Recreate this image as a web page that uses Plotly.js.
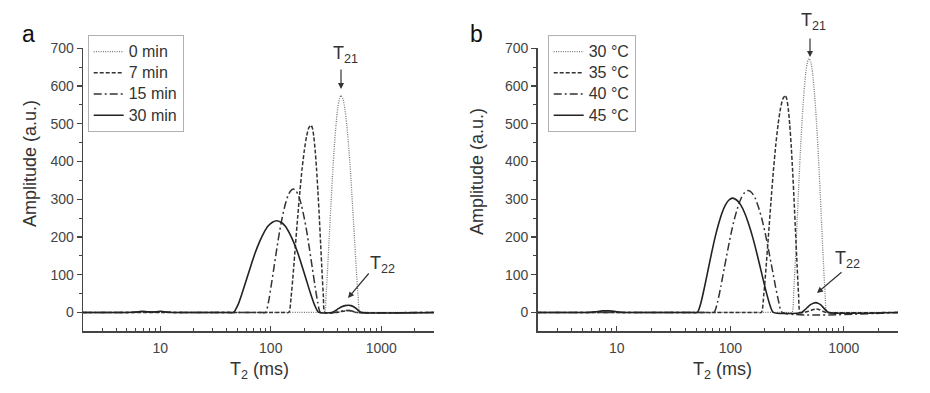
<!DOCTYPE html>
<html><head><meta charset="utf-8">
<script src="https://cdn.plot.ly/plotly-3.0.1.min.js"></script>
<style>html,body{margin:0;padding:0;background:#fff}#chart{width:930px;height:393px}</style>
</head><body><div id="chart"></div>
<script>
// ---------- data ----------
const aNames = ['0 min','7 min','15 min','30 min'];
const bNames = ['30 °C','35 °C','40 °C','45 °C'];

// panel a
const a0x = [2, 280, 306.2, 317.0, 328.1, 339.6, 351.6, 363.9, 376.7, 389.9, 403.6, 417.8, 432.5, 449.8, 467.7, 486.4, 505.8, 526.0, 547.0, 568.9, 591.6, 615.2, 639.7, 680, 3000];
const a0y = [0, 0, 0, 48, 124, 209, 294, 374, 443, 499, 541, 566, 575, 566, 541, 499, 443, 374, 294, 209, 124, 48, 0, 0, 0];
const a7x = [2, 130, 145.9, 152.8, 160.0, 167.5, 175.4, 183.7, 192.3, 201.4, 210.9, 220.8, 231.2, 238.0, 244.9, 252.1, 259.4, 267.0, 274.8, 282.8, 291.1, 299.6, 308.3, 400, 430, 470, 510, 550, 590, 3000];
const a7y = [0, 0, 0, 41, 107, 181, 254, 322, 382, 430, 467, 489, 496, 489, 467, 430, 382, 322, 254, 181, 107, 41, 0, 0, 2, 4, 5, 3, 0, 0];
const a15x = [2, 5.5, 6.5, 7.2, 8, 9, 10, 11, 13, 80, 89.9, 95.3, 100.9, 106.9, 113.2, 119.9, 127.1, 134.6, 142.6, 151.0, 160.0, 169.3, 179.1, 189.5, 200.4, 212.1, 224.4, 237.4, 251.2, 265.8, 281.2, 380, 420, 470, 520, 570, 620, 3000];
const a15y = [0, 0, 1, 2, 1, 1, 2, 1, 0, 0, 0, 27, 71, 119, 167, 213, 252, 284, 308, 322, 327, 322, 308, 284, 252, 213, 167, 119, 71, 27, 0, 0, 2, 5, 5, 2, 0, 0];
const a30x = [2, 5, 6, 6.8, 7.6, 8.5, 9.3, 10.2, 11.3, 13, 40, 46.1, 50.5, 55.2, 60.4, 66.1, 72.3, 79.1, 86.5, 94.6, 103.5, 113.2, 123.6, 134.9, 147.2, 160.7, 175.4, 191.4, 208.9, 228.0, 248.9, 271.6, 356.5, 381.9, 409.3, 438.5, 469.9, 503.5, 532.1, 562.3, 594.3, 628.1, 663.7, 3000];
const a30y = [0, 0, 1, 3, 2, 1, 2, 3, 1, 0, 0, 0, 20, 52, 88, 124, 158, 187, 211, 229, 239, 243, 239, 229, 211, 187, 158, 124, 88, 52, 20, 0, 0, 4, 10, 15, 18, 19, 18, 15, 10, 4, 0, 0];

// panel b
const b30x = [2, 320, 349.9, 362.2, 375.0, 388.2, 401.8, 415.9, 430.5, 445.6, 461.3, 477.5, 494.3, 512.2, 530.9, 550.2, 570.2, 591.0, 612.4, 634.8, 657.7, 681.6, 706.3, 740, 3000];
const b30y = [0, 0, 0, 56, 145, 245, 345, 437, 518, 584, 633, 663, 673, 663, 633, 584, 518, 437, 345, 245, 145, 56, 0, 0, 0];
const b35x = [2, 170, 187.9, 197.2, 207.0, 217.3, 228.0, 239.3, 251.2, 263.6, 276.7, 290.4, 304.8, 314.1, 323.6, 333.4, 343.6, 354.0, 364.8, 375.8, 387.3, 399.0, 411.1, 450, 490, 530, 570, 610, 650, 700, 3000];
const b35y = [0, 0, 0, 48, 124, 209, 294, 374, 443, 499, 541, 566, 575, 566, 541, 499, 443, 374, 294, 209, 124, 48, 0, 0, 3, 7, 9, 7, 3, 0, 0];
const b40x = [2, 60, 71.9, 77.1, 82.6, 88.5, 94.8, 101.6, 108.9, 116.7, 125.0, 134.0, 143.5, 153.8, 164.8, 176.6, 189.2, 202.8, 217.3, 232.8, 249.5, 267.3, 286.4, 3000];
const b40y = [0, 0, 0, 27, 70, 118, 165, 210, 249, 280, 304, 318, 323, 318, 304, 280, 249, 210, 165, 118, 70, 27, 0, 0];
const b45x = [2, 5.5, 6.5, 7.5, 8.5, 9.5, 10.5, 11.5, 45, 51.2, 55.0, 59.0, 63.4, 68.1, 73.1, 78.5, 84.3, 90.6, 97.2, 104.5, 113.5, 123.3, 134.0, 145.5, 158.1, 171.8, 186.6, 202.8, 220.3, 239.3, 424.6, 449.8, 476.4, 504.7, 534.6, 566.2, 595.7, 626.6, 659.2, 693.4, 729.5, 3000];
const b45y = [0, 0, 2, 4, 4, 3, 1, 0, 0, 0, 25, 65, 110, 155, 197, 233, 263, 285, 298, 303, 298, 285, 263, 233, 197, 155, 110, 65, 25, 0, 0, 6, 13, 20, 24, 26, 24, 20, 13, 6, 0, 0];

// ticks
const xTickVals = [10, 100, 1000];
const xTickText = ['10', '100', '1000'];
const xMinorVals = [2,3,4,5,6,7,8,9,20,30,40,50,60,70,80,90,200,300,400,500,600,700,800,900,2000,3000];
const yTickVals = [0,100,200,300,400,500,600,700];
const yMinorVals = [50,150,250,350,450,550,650];

// ---------- layout helpers ----------
const W = 930, H = 393;
const px = v => v / W, py = v => 1 - v / H;
const FONT = 'Arial, "Liberation Sans", sans-serif';

const styles = [
  {color:'#7a7a7a', width:1.3, dash:'1px,1.3px'},
  {color:'#333333', width:1.5, dash:'4px,2px'},
  {color:'#333333', width:1.5, dash:'8px,3px,2px,3px'},
  {color:'#222222', width:1.6, dash:'solid'}
];

function tr(x, y, name, i, xa, ya, leg) {
  return {x:x, y:y, name:'<span style="font-size:16px">' + name + '</span>', type:'scatter', mode:'lines',
    xaxis:xa, yaxis:ya, legend:leg,
    line:Object.assign({shape:'spline', smoothing:0.6}, styles[i]), hoverinfo:'skip'};
}

const data = [
  tr(a0x, a0y, aNames[0], 0, 'x', 'y', 'legend'),
  tr(a7x, a7y, aNames[1], 1, 'x', 'y', 'legend'),
  tr(a15x, a15y, aNames[2], 2, 'x', 'y', 'legend'),
  tr(a30x, a30y, aNames[3], 3, 'x', 'y', 'legend'),
  tr(b30x, b30y, bNames[0], 0, 'x2', 'y2', 'legend2'),
  tr(b35x, b35y, bNames[1], 1, 'x2', 'y2', 'legend2'),
  tr(b40x, b40y, bNames[2], 2, 'x2', 'y2', 'legend2'),
  tr(b45x, b45y, bNames[3], 3, 'x2', 'y2', 'legend2')
];

function xax(l, r, anchor) {
  return {type:'log', domain:[px(l), px(r)], range:[Math.log10(2), Math.log10(3000)], anchor:anchor,
    showline:true, linecolor:'#444', linewidth:1.3, mirror:false,
    ticks:'inside', ticklen:5, tickwidth:1.1, tickcolor:'#444',
    tickmode:'array', tickvals:xTickVals, ticktext:xTickText,
    tickfont:{family:FONT, size:14, color:'#444'}, ticklabelstandoff:4,
    minor:{tickmode:'array', tickvals:xMinorVals, ticks:'inside', ticklen:3, tickwidth:1, tickcolor:'#444', showgrid:false},
    showgrid:false, zeroline:false, automargin:false, fixedrange:true};
}
function yax(anchor) {
  return {domain:[py(331.3), py(48.3)], range:[-50, 700], anchor:anchor,
    showline:true, linecolor:'#444', linewidth:1.3,
    ticks:'outside', ticklen:5, tickwidth:1.1, tickcolor:'#444',
    tickmode:'array', tickvals:yTickVals,
    tickfont:{family:FONT, size:14, color:'#444'},
    minor:{tickmode:'array', tickvals:yMinorVals, ticks:'outside', ticklen:3, tickwidth:1, tickcolor:'#444', showgrid:false},
    showgrid:false, zeroline:false, automargin:false, fixedrange:true};
}

function legendAt(xl) {
  return {x:px(xl), y:py(35), xanchor:'left', yanchor:'top', bordercolor:'#b0b0b0', borderwidth:1,
    bgcolor:'rgba(255,255,255,0)', font:{family:FONT, size:14, color:'#333'}, tracegroupgap:0, itemwidth:30};
}

function txt(x, y, text, size, extra) {
  return Object.assign({xref:'paper', yref:'paper', x:px(x), y:py(y), text:text, showarrow:false,
    xanchor:'center', yanchor:'middle', font:{family:FONT, size:size, color:'#333'}}, extra || {});
}
function arrow(hx, hy, ax, ay) {
  return {xref:'paper', yref:'paper', x:px(hx), y:py(hy), ax:ax, ay:ay, axref:'pixel', ayref:'pixel',
    text:'', showarrow:true, arrowhead:2, arrowsize:1, arrowwidth:1.2, arrowcolor:'#333'};
}

const annotations = [
  txt(28, 34, 'a', 23, {font:{family:FONT, size:23, color:'#111'}}),
  txt(476, 34, 'b', 23, {font:{family:FONT, size:23, color:'#111'}}),
  txt(30, 164, 'Amplitude (a.u.)', 18, {textangle:-90}),
  txt(477, 172, 'Amplitude (a.u.)', 18, {textangle:-90}),
  txt(259, 370, 'T<sub>2</sub> (ms)', 18),
  txt(722, 370, 'T<sub>2</sub> (ms)', 18),
  txt(345, 55, 'T<sub>21</sub>', 18),
  txt(813, 22, 'T<sub>21</sub>', 18),
  txt(382, 264, 'T<sub>22</sub>', 18),
  txt(847, 259, 'T<sub>22</sub>', 18),
  arrow(341, 89, 0, -21),
  arrow(810, 57, 0, -20),
  arrow(348, 298, 22, -26),
  arrow(817, 293, 26, -22)
];

const layout = {
  width:W, height:H, margin:{l:0, r:0, t:0, b:0}, paper_bgcolor:'#fff', plot_bgcolor:'rgba(0,0,0,0)',
  font:{family:FONT, color:'#333'},
  showlegend:true,
  xaxis:xax(83, 434, 'y'), yaxis:yax('x'),
  xaxis2:xax(537.5, 898, 'y2'), yaxis2:yax('x2'),
  legend:legendAt(87.7), legend2:legendAt(547.7),
  annotations:annotations
};

Plotly.newPlot('chart', data, layout, {staticPlot:true, displayModeBar:false});
</script>
</body></html>
